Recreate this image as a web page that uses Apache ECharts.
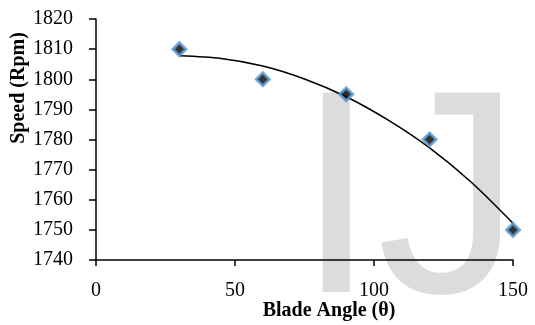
<!DOCTYPE html>
<html>
<head>
<meta charset="utf-8">
<script src="https://cdn.jsdelivr.net/npm/echarts@6/dist/echarts.min.js"></script>
<style>
  html, body { margin: 0; padding: 0; background: #fff; }
  #chart { width: 535px; height: 325px; }
</style>
</head>
<body>
<div id="chart"></div>
<script>
// measured points
var bladeAngle = [30, 60, 90, 120, 150]
var speed = [1810, 1800, 1795, 1780, 1750]

// trend line
var trendAngle = [30, 45, 60, 75, 90, 105, 120, 135, 150]
var trendSpeed = [1807.8, 1806.9, 1804.4, 1800.1, 1794.2, 1786.5, 1777.2, 1765.8, 1752.2]

var xTicks = [0, 50, 100, 150]
var yMin = 1740, yMax = 1820, yStep = 10

var serif = '"Liberation Serif", "DejaVu Serif", serif'

var chart = echarts.init(document.getElementById('chart'))

var option = {
  animation: false,
  grid: { left: 96, right: 22, top: 19, bottom: 65 },
  graphic: [
    {
      type: 'text',
      z: -10,
      x: 296,
      y: 212,
      silent: true,
      style: {
        text: 'IJSER',
        font: '290px "Liberation Sans", Arial, sans-serif',
        fill: '#dcdcdc',
        verticalAlign: 'middle'
      }
    },
    {
      type: 'text',
      x: 329,
      y: 311,
      style: {
        text: 'Blade Angle (θ)',
        font: 'bold 20px ' + serif,
        fill: '#000',
        align: 'center',
        verticalAlign: 'middle'
      }
    },
    {
      type: 'text',
      x: 19,
      y: 88,
      rotation: Math.PI / 2,
      style: {
        text: 'Speed (Rpm)',
        font: 'bold 20px ' + serif,
        fill: '#000',
        align: 'center',
        verticalAlign: 'middle'
      }
    }
  ],
  xAxis: {
    type: 'value',
    min: xTicks[0],
    max: xTicks[xTicks.length - 1],
    interval: xTicks[1] - xTicks[0],
    splitLine: { show: false },
    axisLine: { lineStyle: { color: '#000', width: 1.5 } },
    axisTick: { show: true, length: 6, lineStyle: { color: '#000', width: 1.5 } },
    axisLabel: { color: '#000', fontSize: 20, fontFamily: serif, margin: 21 }
  },
  yAxis: {
    type: 'value',
    min: yMin,
    max: yMax,
    interval: yStep,
    splitLine: { show: false },
    axisLine: { show: true, lineStyle: { color: '#000', width: 1.5 } },
    axisTick: { show: true, length: 7, lineStyle: { color: '#000', width: 1.5 } },
    axisLabel: {
      color: '#000', fontSize: 20, fontFamily: serif, margin: 23,
      formatter: function (v) { return String(v) }
    }
  },
  series: [
    {
      type: 'line',
      smooth: 0.3,
      symbol: 'none',
      silent: true,
      z: 2,
      lineStyle: { color: '#000', width: 1.6 },
      data: trendAngle.map(function (a, i) { return [a, trendSpeed[i]] })
    },
    {
      type: 'scatter',
      symbol: 'diamond',
      symbolSize: 13,
      z: 3,
      itemStyle: { color: '#000', borderColor: '#5b9bd5', borderWidth: 3 },
      data: bladeAngle.map(function (a, i) { return [a, speed[i]] })
    }
  ]
}

chart.setOption(option)
</script>
</body>
</html>
